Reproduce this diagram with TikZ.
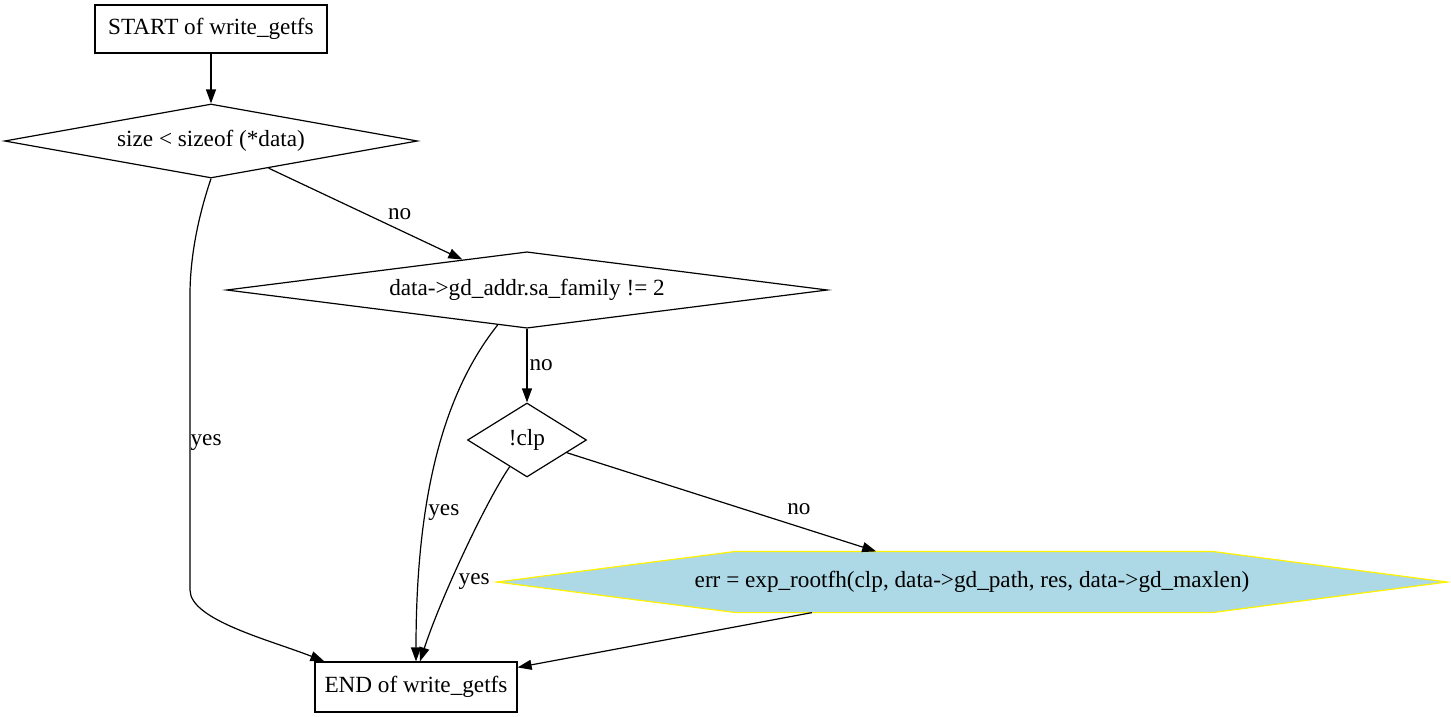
\documentclass[tikz,border=0pt]{standalone}
\usepackage{fontspec}
\setmainfont{Liberation Serif}
\usetikzlibrary{arrows.meta, shapes.geometric, backgrounds}
\definecolor{lightblue}{RGB}{173,216,230}

\begin{document}
\begin{tikzpicture}[x=1pt,y=-1pt,line width=1.2pt,>={Triangle[length=14pt,width=10pt]},
      every node/.style={font=\rmfamily\fontsize{23.2}{27}\selectfont},
      box/.style={draw,rectangle,inner sep=0pt},
      test/.style={draw,diamond,inner sep=0pt,aspect=5},
      action/.style={rectangle,inner sep=0pt,minimum width=949pt,minimum height=60pt},
      lbl/.style={inner sep=0pt}]
      \useasboundingbox (0,0) rectangle (1451,717);
      \node[box,minimum width=232pt,minimum height=48pt] (start) at (211,29) {START of write\_getfs};
      \node[test,minimum width=413pt,minimum height=74pt] (cond_size) at (211,141) {size < sizeof (*data)};
      \node[test,minimum width=601pt,minimum height=74pt] (cond_family) at (527,290) {data->gd\_addr.sa\_family != 2};
      \node[test,minimum width=119pt,minimum height=74pt,aspect=1.6] (cond_clp) at (527,440) {!clp};
      \node[action] (rootfh) at (972,582) {err = exp\_rootfh(clp, data->gd\_path, res, data->gd\_maxlen)};
      \node[box,minimum width=202pt,minimum height=50pt] (end) at (416,687) {END of write\_getfs};
      \draw[->] (start) -- (cond_size);
      \draw[->] (cond_size.south) .. controls (197,220) and (190,260) .. (190,295)
        -- node[lbl,pos=.5,right] {yes} (190,590)
        .. controls (190,620) and (270,640) .. ([xshift=10pt]end.north west);
      \draw[->] (cond_size) -- node[lbl,midway,right=22pt] {no} (cond_family);
      \draw[->] (cond_family.230.7) .. controls (450,385) and (416,480) .. node[lbl,pos=.68,right=2pt] {yes} (end.north);
      \draw[->] (cond_family) -- node[lbl,midway,right=2pt] {no} (cond_clp);
      \draw[->] (cond_clp.237) .. controls (485,503) and (440,600) .. node[lbl,pos=.62,right=7pt] {yes} ([xshift=4pt]end.north);
      \draw[->] (cond_clp) -- node[lbl,pos=.75,above=11pt] {no} (rootfh);
      \draw[->] ([xshift=-160pt]rootfh.south) -- ([yshift=-6pt]end.north east);
      % hexagon behind the action text
      \begin{pgfonlayer}{background}
        \filldraw[draw=yellow,fill=lightblue,line width=1.2pt] (rootfh.west) -- ([xshift=239pt]rootfh.north west)
          -- ([xshift=-235pt]rootfh.north east) -- (rootfh.east)
          -- ([xshift=-235pt]rootfh.south east) -- ([xshift=239pt]rootfh.south west) -- cycle;
      \end{pgfonlayer}
    \end{tikzpicture}
\end{document}
